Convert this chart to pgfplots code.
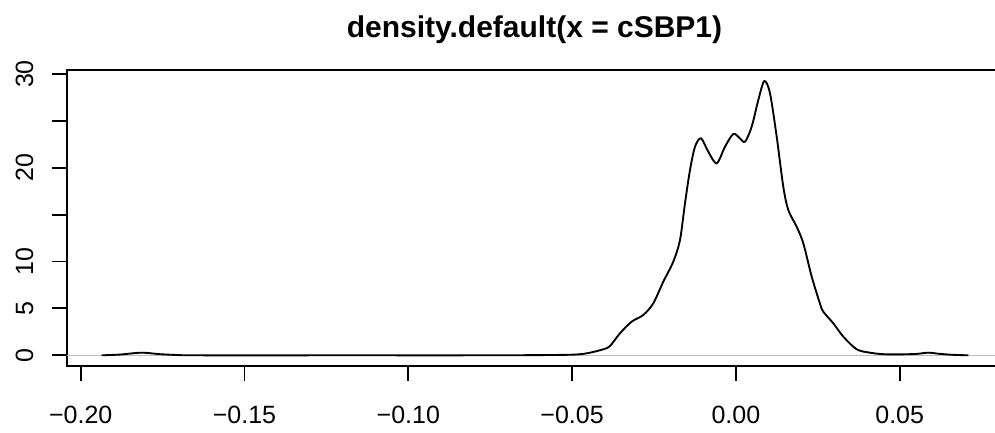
\documentclass[border=0pt]{standalone}
\usepackage{pgfplots}
\pgfplotsset{compat=1.18}
\usepackage{fontspec}
\setmainfont{Liberation Sans}
\definecolor{rgray}{HTML}{BEBEBE}
\begin{document}
\begin{tikzpicture}
\begin{axis}[
  at={(0,0)}, anchor=south west,
  scale only axis, width=448.8pt, height=142.08pt,
  xmin=-0.20418, xmax=0.08123, ymin=-1.141, ymax=30.426,
  axis line style={line width=0.9pt},
  tick align=outside, major tick length=7.2pt,
  tick style={line width=0.9pt, black},
  xtick pos=bottom, ytick pos=left,
  xtick={-0.2,-0.15,-0.1,-0.05,0,0.05},
  xticklabels={−0.20,−0.15,−0.10,−0.05,0.00,0.05},
  ytick={0,5,10,15,20,25,30},
  yticklabels={0,5,10,,20,,30},
  /pgf/number format/assume math mode=true,
  tick label style={font=\fontsize{12}{14}\selectfont},
  xticklabel style={anchor=base, yshift=-20.2pt},
  yticklabel style={xshift=-9.1pt, rotate=90, anchor=base},
  clip=false,
]
\addplot[rgray, line width=0.7pt] coordinates {(-0.20418,0) (0.08123,0)};
\addplot[black, line width=0.9pt, smooth, tension=0.5] coordinates {
(-0.19359,0.0) (-0.1880,0.08) (-0.18138,0.28) (-0.17579,0.12) (-0.16969,0.02)
(-0.1636,0.0) (-0.12,0.0) (-0.08,0.0) (-0.06590,0.01) (-0.05064,0.06)
(-0.04554,0.21) (-0.04048,0.64) (-0.03843,0.99) (-0.03538,2.35) (-0.03181,3.59)
(-0.02827,4.30) (-0.02522,5.54) (-0.02216,7.85) (-0.01911,9.99) (-0.01706,12.30)
(-0.01554,16.21) (-0.01401,19.76) (-0.01248,22.24) (-0.01065,23.14) (-0.00842,21.71)
(-0.00586,20.47) (-0.00333,22.24) (-0.00079,23.60) (0.00125,23.14) (0.00278,22.78)
(0.00482,24.38) (0.00684,27.22) (0.00867,29.25) (0.01041,27.94) (0.01246,23.31)
(0.01447,17.98) (0.01600,15.49) (0.01856,13.71) (0.02058,11.94) (0.02314,8.39)
(0.02568,5.50) (0.02668,4.65) (0.02974,3.41) (0.03279,1.99) (0.03688,0.64)
(0.04094,0.28) (0.04499,0.12) (0.05009,0.10) (0.05519,0.15) (0.05873,0.28)
(0.06230,0.15) (0.06636,0.05) (0.07094,0.0)
};
\node[anchor=base, font=\bfseries\fontsize{14.4}{17}\selectfont]
  at (rel axis cs:0.5,1) [yshift=15.84pt] {density.default(x = cSBP1)};
\end{axis}
\pgfresetboundingbox
\path (-32.16pt,-31.68pt) rectangle (445.44pt,175.68pt);
\end{tikzpicture}
\end{document}
